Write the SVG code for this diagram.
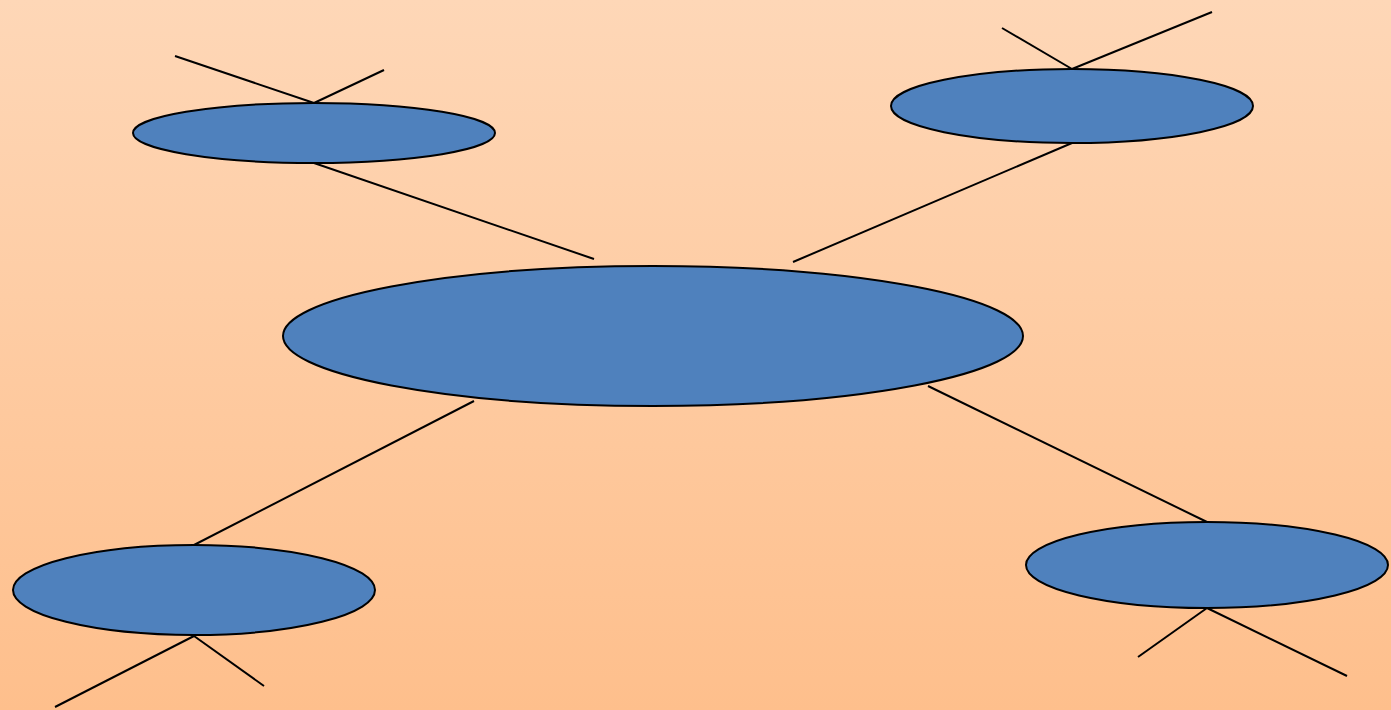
<svg xmlns="http://www.w3.org/2000/svg" width="1391" height="710" viewBox="0 0 1391 710">
<defs>
<linearGradient id="bg" x1="0" y1="0" x2="0" y2="1">
<stop offset="0" stop-color="#FED7B7"/>
<stop offset="1" stop-color="#FEBF8C"/>
</linearGradient>
<style>
.n{fill:#4F81BD;stroke:#000;stroke-width:2}
.c line{stroke:#000;stroke-width:2}
</style>
</defs>
<rect width="1391" height="710" fill="url(#bg)"/>
<g class="c" id="connectors">
<line x1="175" y1="56" x2="314" y2="103"/>
<line x1="384" y1="70" x2="314" y2="103"/>
<line x1="314" y1="163" x2="594" y2="259"/>
<line x1="1002" y1="28" x2="1072" y2="69"/>
<line x1="1212" y1="12" x2="1072" y2="69"/>
<line x1="1072" y1="143" x2="793" y2="262"/>
<line x1="474" y1="401" x2="194" y2="545"/>
<line x1="194" y1="636" x2="55" y2="707"/>
<line x1="194" y1="636" x2="264" y2="686"/>
<line x1="928" y1="386" x2="1207" y2="522"/>
<line x1="1207" y1="608" x2="1138" y2="657"/>
<line x1="1207" y1="608" x2="1347" y2="676"/>
</g>
<g id="node-tl"><ellipse class="n" cx="314" cy="133" rx="181" ry="30"/></g>
<g id="node-tr"><ellipse class="n" cx="1072" cy="106" rx="181" ry="37"/></g>
<g id="node-center"><ellipse class="n" cx="653" cy="336" rx="370" ry="70"/></g>
<g id="node-bl"><ellipse class="n" cx="194" cy="590" rx="181" ry="45"/></g>
<g id="node-br"><ellipse class="n" cx="1207" cy="565" rx="181" ry="43"/></g>
</svg>
